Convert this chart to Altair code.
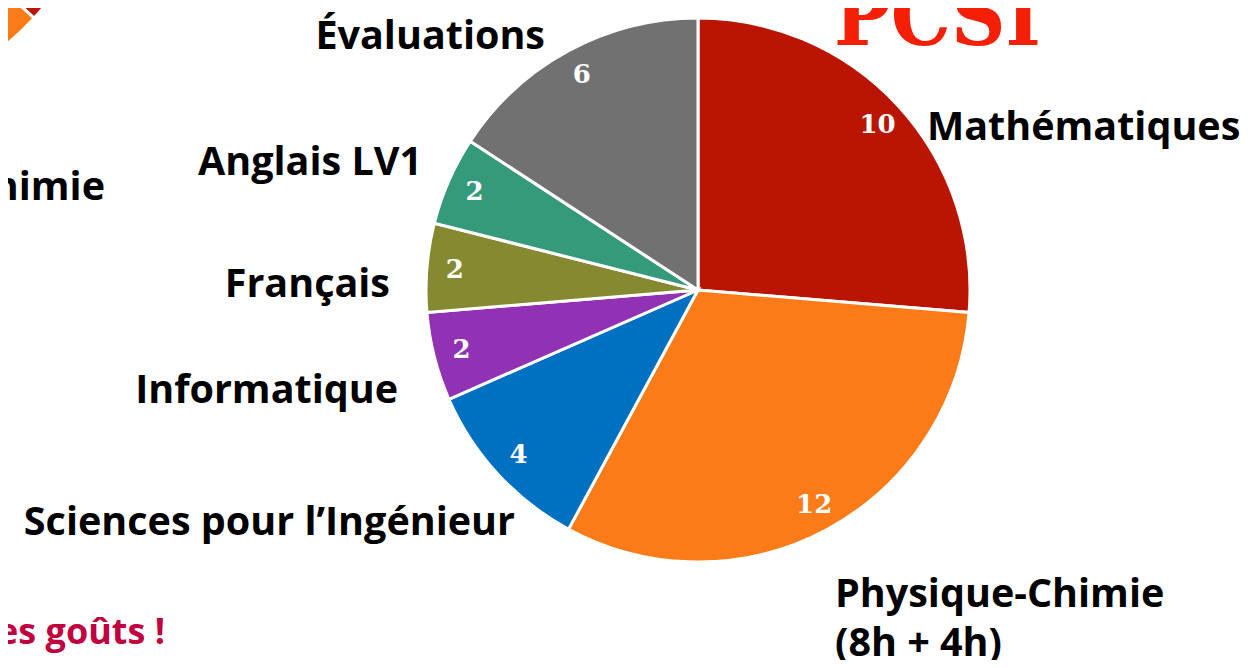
import altair as alt
import pandas as pd

# ---- data ----
categories = ["Mathématiques", "Physique-Chimie", "Sciences pour l’Ingénieur",
              "Informatique", "Français", "Anglais LV1", "Évaluations"]
hours = [10, 12, 4, 2, 2, 2, 6]
colors = ["#b91502", "#fa7b17", "#0070c0", "#9032b3", "#858a31", "#35997b", "#717171"]

# cropped fragment of neighbouring pie (top-left corner)
frag_cats = ["Mathématiques", "Physique-Chimie", "Autres"]
frag_hours = [14, 12, 12]
frag_colors = ["#b91502", "#fa7b17", "#ffffff"]

# ---- layout (chart coordinates: page minus 8px margin) ----
W, H = 1234, 652
CX, CY, R = 690, 282, 272
label_text = ["Mathématiques", "Physique-Chimie\n(8h + 4h)", "Sciences pour l’Ingénieur",
              "Informatique", "Français", "Anglais LV1", "Évaluations"]
label_x = [919, 827, 507, 390, 382, 414, 537]
label_y = [132, 599, 527, 395, 289, 167, 41]
label_align = ["left", "left", "right", "right", "right", "right", "right"]

FONT = "Open Sans"
FS = 39.5

df = pd.DataFrame({"cat": categories, "hours": hours, "color": colors,
                   "idx": list(range(len(categories)))})
frag = pd.DataFrame({"cat": frag_cats, "h": frag_hours, "color": frag_colors,
                     "idx": list(range(len(frag_cats)))})
labels = pd.DataFrame({"t": label_text, "x": label_x, "y": label_y, "a": label_align})

frag_pie = alt.Chart(frag).mark_arc(outerRadius=R, stroke="white", strokeWidth=3).encode(
    theta=alt.Theta("h:Q", stack=True),
    color=alt.Color("color:N", scale=None),
    order=alt.Order("idx:Q"),
    x=alt.value(-174), y=alt.value(-174),
)

pie = alt.Chart(df).mark_arc(outerRadius=R, stroke="white", strokeWidth=3).encode(
    theta=alt.Theta("hours:Q", stack=True),
    color=alt.Color("color:N", scale=None),
    order=alt.Order("idx:Q"),
    x=alt.value(CX), y=alt.value(CY),
)

nums = alt.Chart(df).mark_text(radius=244, font="DejaVu Serif", fontSize=26,
                               fontWeight="bold", color="white").encode(
    theta=alt.Theta("hours:Q", stack=True),
    order=alt.Order("idx:Q"),
    text=alt.Text("hours:Q"),
    x=alt.value(CX), y=alt.value(CY),
)

def lab(align):
    return alt.Chart(labels[labels["a"] == align]).mark_text(
        font=FONT, fontSize=FS, fontWeight="bold", color="#000000",
        align=align, baseline="alphabetic", lineBreak="\n", lineHeight=49,
    ).encode(
        x=alt.X("x:Q", scale=None), y=alt.Y("y:Q", scale=None), text="t:N"
    )

extra = pd.DataFrame({
    "t": ["Physique-Chimie", "À chacun ses goûts !", "PCSI"],
})

cut_label = alt.Chart(extra.iloc[[0]]).mark_text(
    font=FONT, fontSize=FS, fontWeight="bold", color="#000000",
    align="right", baseline="alphabetic").encode(
    x=alt.value(97), y=alt.value(192), text="t:N")

motto = alt.Chart(extra.iloc[[1]]).mark_text(
    font=FONT, fontSize=36, fontWeight="bold", color="#c0003f",
    align="right", baseline="alphabetic").encode(
    x=alt.value(157), y=alt.value(636), text="t:N")

title = alt.Chart(extra.iloc[[2]]).mark_text(
    font="DejaVu Serif Condensed", fontSize=84, fontWeight="bold", color="#f51f05",
    align="left", baseline="alphabetic").encode(
    x=alt.value(826), y=alt.value(37), text="t:N")

chart = alt.layer(frag_pie, pie, nums, lab("left"), lab("right"), cut_label, motto, title).resolve_scale(
    theta="independent"
).properties(
    width=W, height=H, padding=0, autosize=alt.AutoSizeParams(type="none"),
    background="white",
).configure_view(stroke=None)

chart.save("out.html", embed_options={"renderer": "svg", "actions": False})
